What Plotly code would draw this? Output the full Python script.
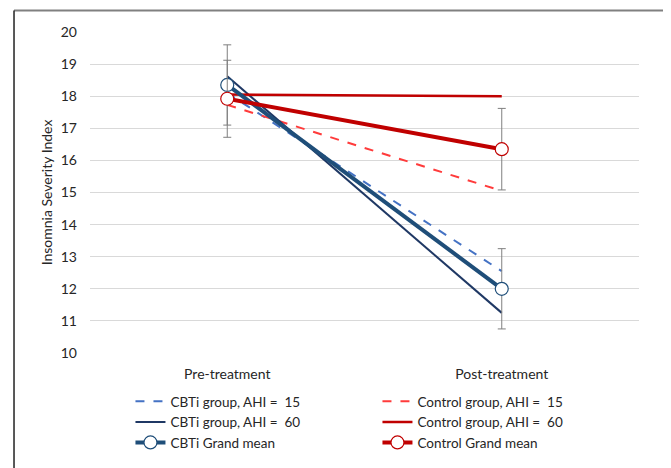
import plotly.graph_objects as go

categories = ["Pre-treatment", "Post-treatment"]
cbti_ahi15 = [18.1, 12.55]
cbti_ahi60 = [18.62, 11.25]
cbti_mean = [18.35, 12.0]
cbti_err = [1.25, 1.25]
ctrl_ahi15 = [17.73, 15.05]
ctrl_ahi60 = [18.05, 18.0]
ctrl_mean = [17.92, 16.35]
ctrl_err = [1.2, 1.27]
y_ticks = list(range(10, 21))

xpos = [0, 1]
FONT = "Lato"
fig = go.Figure()

fig.add_trace(go.Scatter(x=xpos, y=cbti_ahi15, mode="lines", name="CBTi group, AHI =  15",
                         line=dict(color="#4472C4", width=2, dash="dash")))
fig.add_trace(go.Scatter(x=xpos, y=ctrl_ahi15, mode="lines", name="Control group, AHI =  15",
                         line=dict(color="#FF3B3B", width=2, dash="dash")))
fig.add_trace(go.Scatter(x=xpos, y=cbti_ahi60, mode="lines", name="CBTi group, AHI =  60",
                         line=dict(color="#1F3864", width=2)))
fig.add_trace(go.Scatter(x=xpos, y=ctrl_ahi60, mode="lines", name="Control group, AHI =  60",
                         line=dict(color="#C00000", width=2.5)))
fig.add_trace(go.Scatter(x=xpos, y=cbti_mean, mode="lines+markers", name="CBTi Grand mean",
                         line=dict(color="#1F4E79", width=4),
                         marker=dict(size=13, color="white", line=dict(color="#1F4E79", width=1.2)),
                         error_y=dict(type="data", array=cbti_err, color="#7F7F7F", thickness=1, width=4)))
fig.add_trace(go.Scatter(x=xpos, y=ctrl_mean, mode="lines+markers", name="Control Grand mean",
                         line=dict(color="#C00000", width=4),
                         marker=dict(size=13, color="white", line=dict(color="#C00000", width=1.2)),
                         error_y=dict(type="data", array=ctrl_err, color="#7F7F7F", thickness=1, width=4)))

fig.update_layout(
    width=663, height=460,
    margin=dict(l=82, r=32, t=24, b=115, autoexpand=False),
    paper_bgcolor="white", plot_bgcolor="white",
    font=dict(family=FONT, size=14, color="#262626"),
    showlegend=True,
    legend=dict(orientation="h", x=0.0737, y=-0.103, xanchor="left", yanchor="top",
                entrywidth=202, entrywidthmode="pixels", tracegroupgap=0,
                font=dict(family=FONT, size=13.5, color="#262626"), bgcolor="rgba(0,0,0,0)"),
    xaxis=dict(range=[-0.5, 1.5], tickvals=xpos, ticktext=categories, showgrid=False,
               zeroline=False, showline=False, ticks="", ticklabelstandoff=11,
               tickfont=dict(family=FONT, size=14, color="#262626")),
    yaxis=dict(range=[10, 20], tickvals=y_ticks, showgrid=True, gridcolor="#D9D9D9", gridwidth=1,
               zeroline=False, showline=False, ticks="", ticklabelstandoff=12,
               tickfont=dict(family=FONT, size=14, color="#262626"),
               title=dict(text="Insomnia Severity Index", font=dict(family=FONT, size=14, color="#262626"),
                          standoff=4)),
    shapes=[
        dict(type="line", xref="paper", yref="paper", x0=-0.1384, x1=1.2, y0=1.067, y1=1.067,
             line=dict(color="#808080", width=2)),
        dict(type="line", xref="paper", yref="paper", x0=-0.1384, x1=-0.1384, y0=1.067, y1=-0.5,
             line=dict(color="#222222", width=1.5)),
    ],
)

fig.write_html("out.html")
